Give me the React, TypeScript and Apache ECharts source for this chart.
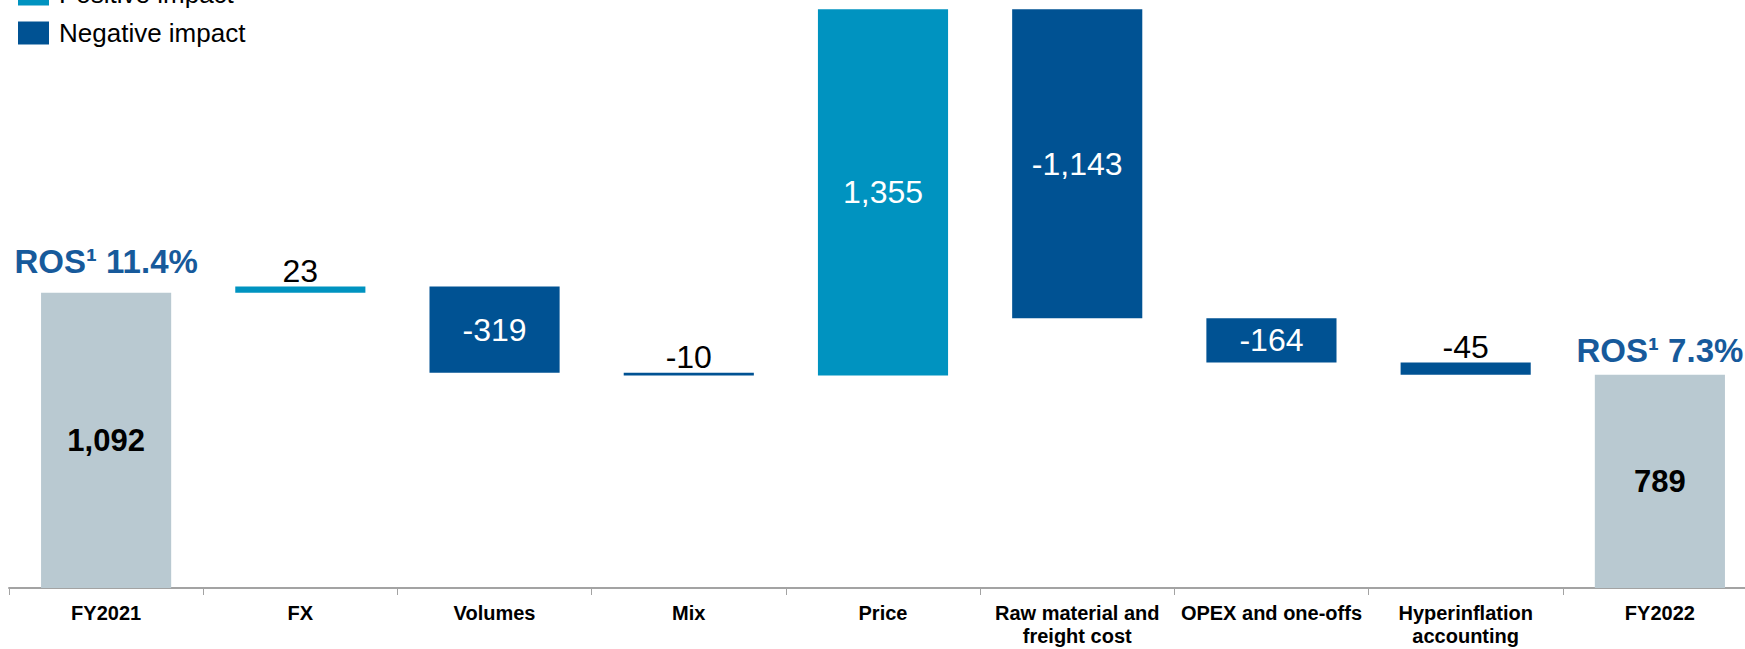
import React, { useEffect, useRef } from "react";
import * as echarts from "echarts";

const categories = [
  "FY2021",
  "FX",
  "Volumes",
  "Mix",
  "Price",
  "Raw material and\nfreight cost",
  "OPEX and one-offs",
  "Hyperinflation\naccounting",
  "FY2022",
];
const startTotal = 1092;
const endTotal = 789;
const deltas = [23, -319, -10, 1355, -1143, -164, -45];
const rosLabels = ["ROS¹ 11.4%", "ROS¹ 7.3%"];

const FONT = "'Liberation Sans', Arial, Helvetica, sans-serif";
const fmt = (v: number) => v.toLocaleString("en-US");

export default function App() {
  const ref = useRef<HTMLDivElement>(null);

  useEffect(() => {
    if (!ref.current) return;
    const chart = echarts.init(ref.current, undefined, { renderer: "svg" });

    const n = categories.length;
    const base: any[] = new Array(n).fill("-");
    const pos: any[] = new Array(n).fill("-");
    const neg: any[] = new Array(n).fill("-");
    const total: any[] = new Array(n).fill("-");
    const ros: any[] = new Array(n).fill("-");
    total[0] = startTotal;
    total[n - 1] = endTotal;
    let run = startTotal;
    deltas.forEach((d, i) => {
      const idx = i + 1;
      const small = Math.abs(d) < 60;
      const lbl = small
        ? { show: true, position: "top", color: "#000000", distance: 0 }
        : { show: true, position: "inside", color: "#ffffff" };
      if (d >= 0) {
        base[idx] = run;
        pos[idx] = { value: d, label: lbl };
      } else {
        base[idx] = run + d;
        neg[idx] = { value: -d, label: lbl };
      }
      run += d;
    });
    ros[0] = { value: 0, label: { distance: 15, formatter: rosLabels[0] } };
    ros[n - 1] = { value: 0, label: { distance: 8, formatter: rosLabels[1] } };

    const valueLabel = {
      fontFamily: FONT,
      fontSize: 32,
    };

    chart.setOption({
      animation: false,
      backgroundColor: "#ffffff",
      textStyle: { fontFamily: FONT },
      legend: {
        data: ["Positive impact", "Negative impact"],
        orient: "vertical",
        left: 18,
        top: -19,
        padding: 0,
        icon: "rect",
        itemWidth: 31,
        itemHeight: 23,
        itemGap: 13,
        textStyle: {
          fontFamily: FONT,
          fontSize: 26,
          color: "#000000",
          padding: [0, 0, 0, 5],
        },
      },
      grid: { left: 9, right: 3, top: 9.3, bottom: 61, containLabel: false },
      xAxis: {
        type: "category",
        data: categories,
        axisLine: { show: true, lineStyle: { color: "#a3a3a3", width: 2 } },
        axisTick: { show: true, length: 7, lineStyle: { color: "#a3a3a3", width: 1 } },
        axisLabel: {
          interval: 0,
          margin: 13,
          fontFamily: FONT,
          fontSize: 20,
          fontWeight: "bold",
          color: "#000000",
          lineHeight: 23,
        },
      },
      yAxis: { type: "value", min: 0, max: 2141, show: false, splitLine: { show: false } },
      series: [
        {
          name: "base",
          type: "bar",
          stack: "w",
          barWidth: "67%",
          silent: true,
          itemStyle: { color: "transparent" },
          data: base,
        },
        {
          name: "Total",
          type: "bar",
          stack: "w",
          barWidth: "67%",
          itemStyle: { color: "#b9c9d1" },
          label: {
            show: true,
            position: "inside",
            fontFamily: FONT,
            fontSize: 31,
            fontWeight: "bold",
            color: "#000000",
            formatter: (p: any) => fmt(p.value),
          },
          data: total,
        },
        {
          name: "Positive impact",
          type: "bar",
          stack: "w",
          barWidth: "67%",
          itemStyle: { color: "#0093c0" },
          label: { show: true, ...valueLabel, formatter: (p: any) => fmt(p.value) },
          data: pos,
        },
        {
          name: "Negative impact",
          type: "bar",
          stack: "w",
          barWidth: "67%",
          itemStyle: { color: "#005293" },
          label: { show: true, ...valueLabel, formatter: (p: any) => "-" + fmt(p.value) },
          data: neg,
        },
        {
          name: "ROS",
          type: "bar",
          stack: "w",
          barWidth: "67%",
          silent: true,
          itemStyle: { color: "transparent" },
          label: {
            show: true,
            position: "top",
            fontFamily: FONT,
            fontSize: 33,
            fontWeight: "bold",
            color: "#175a9b",
          },
          data: ros,
        },
      ],
    });

    return () => chart.dispose();
  }, []);

  return (
    <div
      style={{
        position: "fixed",
        left: 0,
        top: 0,
        width: 1745,
        height: 649,
        overflow: "hidden",
        background: "#ffffff",
      }}
    >
      <div ref={ref} style={{ width: 1760, height: 649 }} />
    </div>
  );
}
